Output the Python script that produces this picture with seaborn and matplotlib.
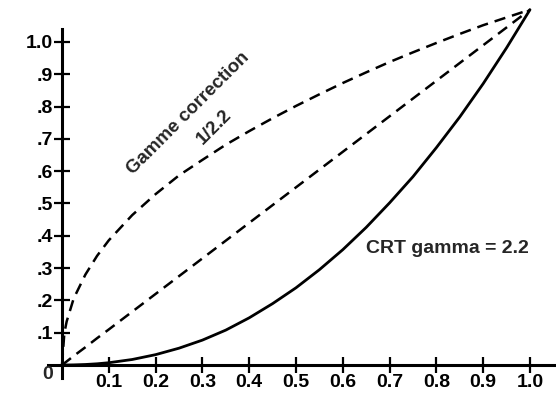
import matplotlib
matplotlib.use("Agg")
import matplotlib.pyplot as plt
import pandas as pd
import seaborn as sns

# Values (the three curves meet at the top right, ~1.1)
x_vals = [0, 0.005, 0.01, 0.025, 0.05, 0.075, 0.1, 0.15, 0.2, 0.25, 0.3, 0.35, 0.4, 0.45, 0.5,
          0.55, 0.6, 0.65, 0.7, 0.75, 0.8, 0.85, 0.9, 0.95, 1.0]
crt_vals = [0, 0.0, 0.0, 0.0003, 0.0015, 0.0037, 0.007, 0.017, 0.032, 0.052, 0.077, 0.108,
            0.146, 0.190, 0.239, 0.295, 0.357, 0.426, 0.502, 0.583, 0.673, 0.768, 0.871, 0.982, 1.1]
corr_vals = [0, 0.099, 0.135, 0.206, 0.28, 0.338, 0.386, 0.464, 0.529, 0.587, 0.635, 0.682,
             0.724, 0.764, 0.802, 0.838, 0.873, 0.906, 0.938, 0.968, 0.997, 1.025, 1.052, 1.076, 1.1]
linear_vals = [0, 0.0055, 0.011, 0.028, 0.055, 0.083, 0.11, 0.165, 0.22, 0.275, 0.33, 0.385,
               0.44, 0.495, 0.55, 0.605, 0.66, 0.715, 0.77, 0.825, 0.88, 0.935, 0.99, 1.045, 1.1]

x_ticks = [0.1, 0.2, 0.3, 0.4, 0.5, 0.6, 0.7, 0.8, 0.9, 1.0]
x_labels = ["0.1", "0.2", "0.3", "0.4", "0.5", "0.6", "0.7", "0.8", "0.9", "1.0"]
y_ticks = [0.1, 0.2, 0.3, 0.4, 0.5, 0.6, 0.7, 0.8, 0.9, 1.0]
y_labels = [".1", ".2", ".3", ".4", ".5", ".6", ".7", ".8", ".9", "1.0"]

df = pd.DataFrame({"x": x_vals, "crt": crt_vals, "corr": corr_vals, "lin": linear_vals})

sns.set_style("white")
plt.rcParams["font.family"] = ["Liberation Sans", "DejaVu Sans"]
plt.rcParams["font.weight"] = "bold"

fig = plt.figure(figsize=(5.56, 4.0), dpi=100)
ax = fig.add_axes([0, 0, 1, 1])

sns.lineplot(data=df, x="x", y="crt", ax=ax, color="black", linewidth=2.0, sort=False)
sns.lineplot(data=df, x="x", y="corr", ax=ax, color="black", linewidth=1.8,
             sort=False).lines[-1].set_dashes((4.5, 2.8))
sns.lineplot(data=df, x="x", y="lin", ax=ax, color="black", linewidth=1.8,
             sort=False).lines[-1].set_dashes((4.5, 2.8))

# map data to the pixel layout of the reference
ax.set_xlim(-0.1325, 1.0556)
ax.set_ylim(-0.1084, 1.130)
ax.set_facecolor("white")

for side in ["top", "right"]:
    ax.spines[side].set_visible(False)
ax.spines["left"].set_position(("data", 0))
ax.spines["bottom"].set_position(("data", 0))
ax.spines["left"].set_bounds(-0.04, 1.04)
ax.spines["bottom"].set_bounds(-0.03, 1.06)
for side in ["left", "bottom"]:
    ax.spines[side].set_linewidth(2.2)
    ax.spines[side].set_color("black")

ax.set_xticks(x_ticks)
ax.set_xticklabels(x_labels)
ax.set_yticks(y_ticks)
ax.set_yticklabels(y_labels)
ax.tick_params(axis="both", direction="inout", length=11, width=1.6,
               labelsize=14, pad=1, colors="black", bottom=True, left=True)
ax.set_xlabel("")
ax.set_ylabel("")

ax.text(-0.02, -0.03, "0", fontsize=14, ha="right", va="center")

ax.text(0.27, 0.78, "Gamme correction", fontsize=13.5, rotation=45,
        ha="center", va="center")
ax.text(0.325, 0.735, "1/2.2", fontsize=13.5, rotation=45,
        ha="center", va="center")
ax.text(0.65, 0.36, "CRT gamma = 2.2", fontsize=14, ha="left", va="center")

fig.savefig("out.png", dpi=100)
